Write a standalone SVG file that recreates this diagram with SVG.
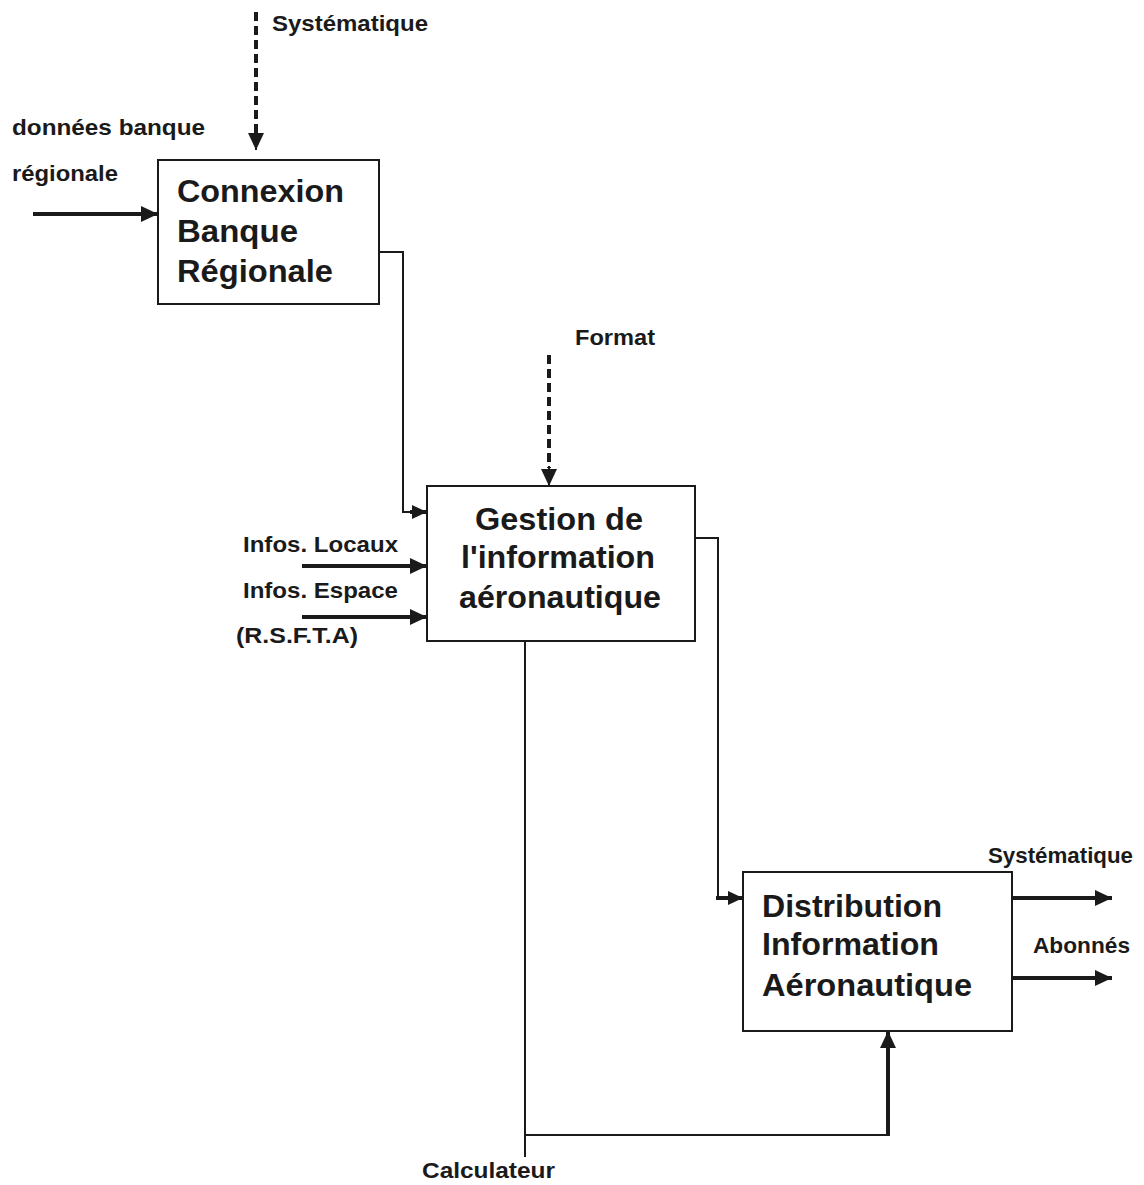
<svg xmlns="http://www.w3.org/2000/svg" width="1144" height="1185" viewBox="0 0 1144 1185">
  <style>
    .box { fill: #ffffff; stroke: #1a1a1a; stroke-width: 2; }
    .title { font-family: "Liberation Sans", Arial, sans-serif; font-weight: bold; font-size: 32px; fill: #1a1a1a; }
    .lbl { font-family: "Liberation Sans", Arial, sans-serif; font-weight: bold; font-size: 22px; fill: #1a1a1a; }
    .thin { fill: none; stroke: #1a1a1a; stroke-width: 2; }
    .thick { fill: none; stroke: #1a1a1a; stroke-width: 4; }
    .dash { fill: none; stroke: #1a1a1a; stroke-width: 4; stroke-dasharray: 9 5; }
  </style>
  <defs>
    <marker id="head" markerUnits="userSpaceOnUse" markerWidth="18" markerHeight="16" refX="17" refY="8" orient="auto">
      <path d="M0,0 L17,8 L0,16 Z" fill="#1a1a1a"/>
    </marker>
    <marker id="headSmall" markerUnits="userSpaceOnUse" markerWidth="16" markerHeight="14" refX="15" refY="7" orient="auto">
      <path d="M0,0 L15,7 L0,14 Z" fill="#1a1a1a"/>
    </marker>
  </defs>
  <rect width="1144" height="1185" fill="#ffffff"/>

  <!-- connectors -->
  <g id="connectors">
    <!-- control: Systématique -> Connexion -->
    <path class="dash" d="M256,12 V134"/>
    <path class="thin" d="M256,132 V150" marker-end="url(#head)"/>
    <!-- input: données banque régionale -->
    <path class="thick" d="M33,214 H158" marker-end="url(#head)"/>
    <!-- Connexion -> Gestion -->
    <path class="thin" d="M379,252 H403 V512 H412"/>
    <path class="thick" d="M410,512 H427" marker-end="url(#headSmall)"/>
    <!-- control: Format -> Gestion -->
    <path class="dash" d="M549,355 V468"/>
    <path class="thin" d="M549,466 V486" marker-end="url(#head)"/>
    <!-- inputs into Gestion -->
    <path class="thick" d="M302,566 H427" marker-end="url(#head)"/>
    <path class="thick" d="M302,617 H427" marker-end="url(#head)"/>
    <!-- Gestion -> Distribution -->
    <path class="thin" d="M695,538 H718 V898 H727"/>
    <path class="thick" d="M716,898 H743" marker-end="url(#headSmall)"/>
    <!-- mechanism: Calculateur -->
    <path class="thin" d="M525,641 V1157"/>
    <path class="thin" d="M525,1135 H888"/>
    <path class="thick" d="M888,1136 V1031" marker-end="url(#head)"/>
    <!-- outputs of Distribution -->
    <path class="thick" d="M1012,898 H1112" marker-end="url(#head)"/>
    <path class="thick" d="M1012,978 H1112" marker-end="url(#head)"/>
  </g>

  <!-- connector labels -->
  <g id="labels">
    <text class="lbl" x="272" y="31" textLength="156" lengthAdjust="spacingAndGlyphs">Systématique</text>
    <text class="lbl" x="12" y="135" textLength="193" lengthAdjust="spacingAndGlyphs">données banque</text>
    <text class="lbl" x="12" y="181" textLength="106" lengthAdjust="spacingAndGlyphs">régionale</text>
    <text class="lbl" x="575" y="345" textLength="80" lengthAdjust="spacingAndGlyphs">Format</text>
    <text class="lbl" x="243" y="552" textLength="155" lengthAdjust="spacingAndGlyphs">Infos. Locaux</text>
    <text class="lbl" x="243" y="598" textLength="155" lengthAdjust="spacingAndGlyphs">Infos. Espace</text>
    <text class="lbl" x="236" y="643" textLength="122" lengthAdjust="spacingAndGlyphs">(R.S.F.T.A)</text>
    <text class="lbl" x="988" y="863" textLength="145" lengthAdjust="spacingAndGlyphs">Systématique</text>
    <text class="lbl" x="1033" y="953" textLength="97" lengthAdjust="spacingAndGlyphs">Abonnés</text>
    <text class="lbl" x="422" y="1178" textLength="133" lengthAdjust="spacingAndGlyphs">Calculateur</text>
  </g>

  <!-- activity boxes -->
  <g id="connexion-banque">
    <rect class="box" x="158" y="160" width="221" height="144"/>
    <text class="title" x="177" y="202" textLength="167" lengthAdjust="spacingAndGlyphs">Connexion</text>
    <text class="title" x="177" y="242" textLength="121" lengthAdjust="spacingAndGlyphs">Banque</text>
    <text class="title" x="177" y="282" textLength="156" lengthAdjust="spacingAndGlyphs">Régionale</text>
  </g>

  <g id="gestion-information">
    <rect class="box" x="427" y="486" width="268" height="155"/>
    <text class="title" x="475" y="530" textLength="168" lengthAdjust="spacingAndGlyphs">Gestion de</text>
    <text class="title" x="461" y="568" textLength="194" lengthAdjust="spacingAndGlyphs">l'information</text>
    <text class="title" x="459" y="608" textLength="202" lengthAdjust="spacingAndGlyphs">aéronautique</text>
  </g>

  <g id="distribution-information">
    <rect class="box" x="743" y="872" width="269" height="159"/>
    <text class="title" x="762" y="917" textLength="180" lengthAdjust="spacingAndGlyphs">Distribution</text>
    <text class="title" x="762" y="955" textLength="177" lengthAdjust="spacingAndGlyphs">Information</text>
    <text class="title" x="762" y="996" textLength="210" lengthAdjust="spacingAndGlyphs">Aéronautique</text>
  </g>
</svg>
